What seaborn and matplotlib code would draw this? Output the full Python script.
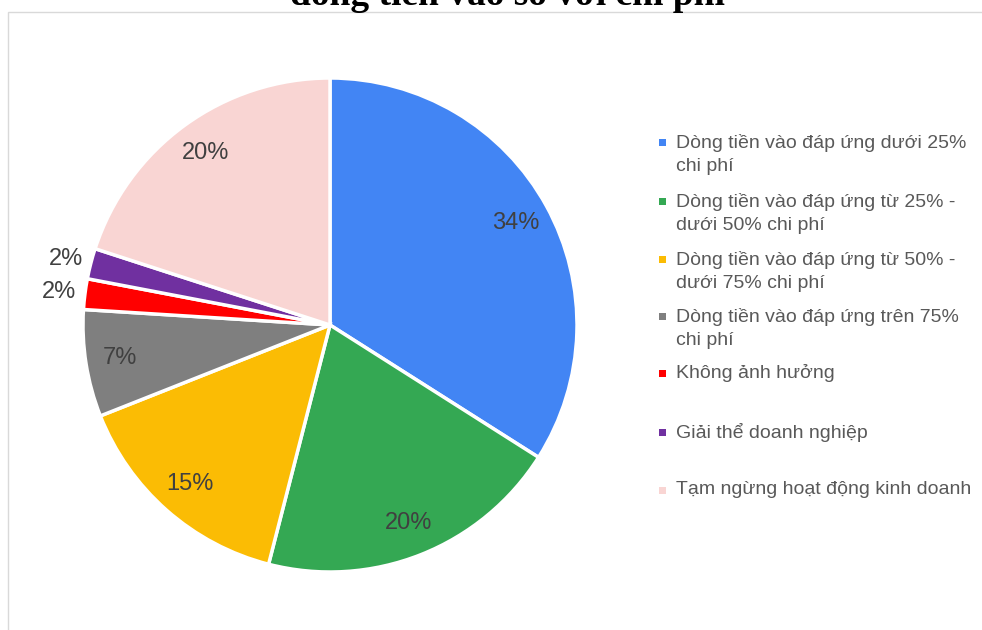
import matplotlib
matplotlib.use("Agg")
import matplotlib.pyplot as plt
import seaborn as sns
import numpy as np
from matplotlib.patches import Rectangle

categories = [
    "Dòng tiền vào đáp ứng dưới 25%\nchi phí",
    "Dòng tiền vào đáp ứng từ 25% -\ndưới 50% chi phí",
    "Dòng tiền vào đáp ứng từ 50% -\ndưới 75% chi phí",
    "Dòng tiền vào đáp ứng trên 75%\nchi phí",
    "Không ảnh hưởng",
    "Giải thể doanh nghiệp",
    "Tạm ngừng hoạt động kinh doanh",
]
values = [34, 20, 15, 7, 2, 2, 20]
colors = ["#4285F4", "#34A853", "#FBBC04", "#7F7F7F", "#FF0000", "#7030A0", "#F9D5D3"]
title = "dòng tiền vào so với chi phí"

sns.set_theme(style="white")
plt.rcParams['font.family'] = ['Liberation Sans', 'DejaVu Sans']

W, H = 982, 630
fig = plt.figure(figsize=(W / 100, H / 100), dpi=100)
fig.patch.set_facecolor("white")

# frame
fig.patches.append(Rectangle((8 / W, -0.05), 1.1, (H - 12) / H + 0.05, transform=fig.transFigure,
                             fill=False, edgecolor="#D9D9D9", linewidth=1.0))

# title (partly cut off at the top, as in the reference)
fig.text(507 / W, 1 - 5 / H, title, ha="center", va="baseline",
         fontsize=27, fontweight="bold", family=["Liberation Serif", "DejaVu Serif"], color="black")

R = 247
cx, cy = 330, 325
ax = fig.add_axes([(cx - R) / W, (H - cy - R) / H, 2 * R / W, 2 * R / H])
pal = sns.color_palette(colors)
wedges, texts, autotexts = ax.pie(
    values, colors=pal, startangle=90, counterclock=False,
    autopct=lambda p: f"{p:.0f}%", pctdistance=0.86, radius=1.0,
    wedgeprops=dict(edgecolor="white", linewidth=2.5),
    textprops=dict(color="#404040", fontsize=17),
)
ax.set_xlim(-1, 1)
ax.set_ylim(-1, 1)
ax.set_aspect("equal")
ax.axis("off")

for w, t, v in zip(wedges, autotexts, values):
    if v <= 2:
        ang = np.deg2rad((w.theta1 + w.theta2) / 2)
        t.set_position((1.1 * np.cos(ang) - 0.005, 1.1 * np.sin(ang) - 0.005))
        t.set_ha("center")
        t.set_clip_on(False)

# legend (drawn manually to match layout)
ys = [142, 201, 259, 316, 373, 432, 490]
for lab, col, y in zip(categories, colors, ys):
    fig.patches.append(Rectangle(((662 - 3.5) / W, 1 - (y + 3.5) / H), 7 / W, 7 / H,
                                 transform=fig.transFigure, facecolor=col, edgecolor="none"))
    if "\n" in lab:
        fig.text(676 / W, 1 - (y - 8) / H, lab, ha="left", va="top",
                 fontsize=14, color="#595959", linespacing=1.45)
    else:
        fig.text(676 / W, 1 - y / H, lab, ha="left", va="center",
                 fontsize=14, color="#595959")

fig.savefig("out.png", dpi=100, facecolor="white")
